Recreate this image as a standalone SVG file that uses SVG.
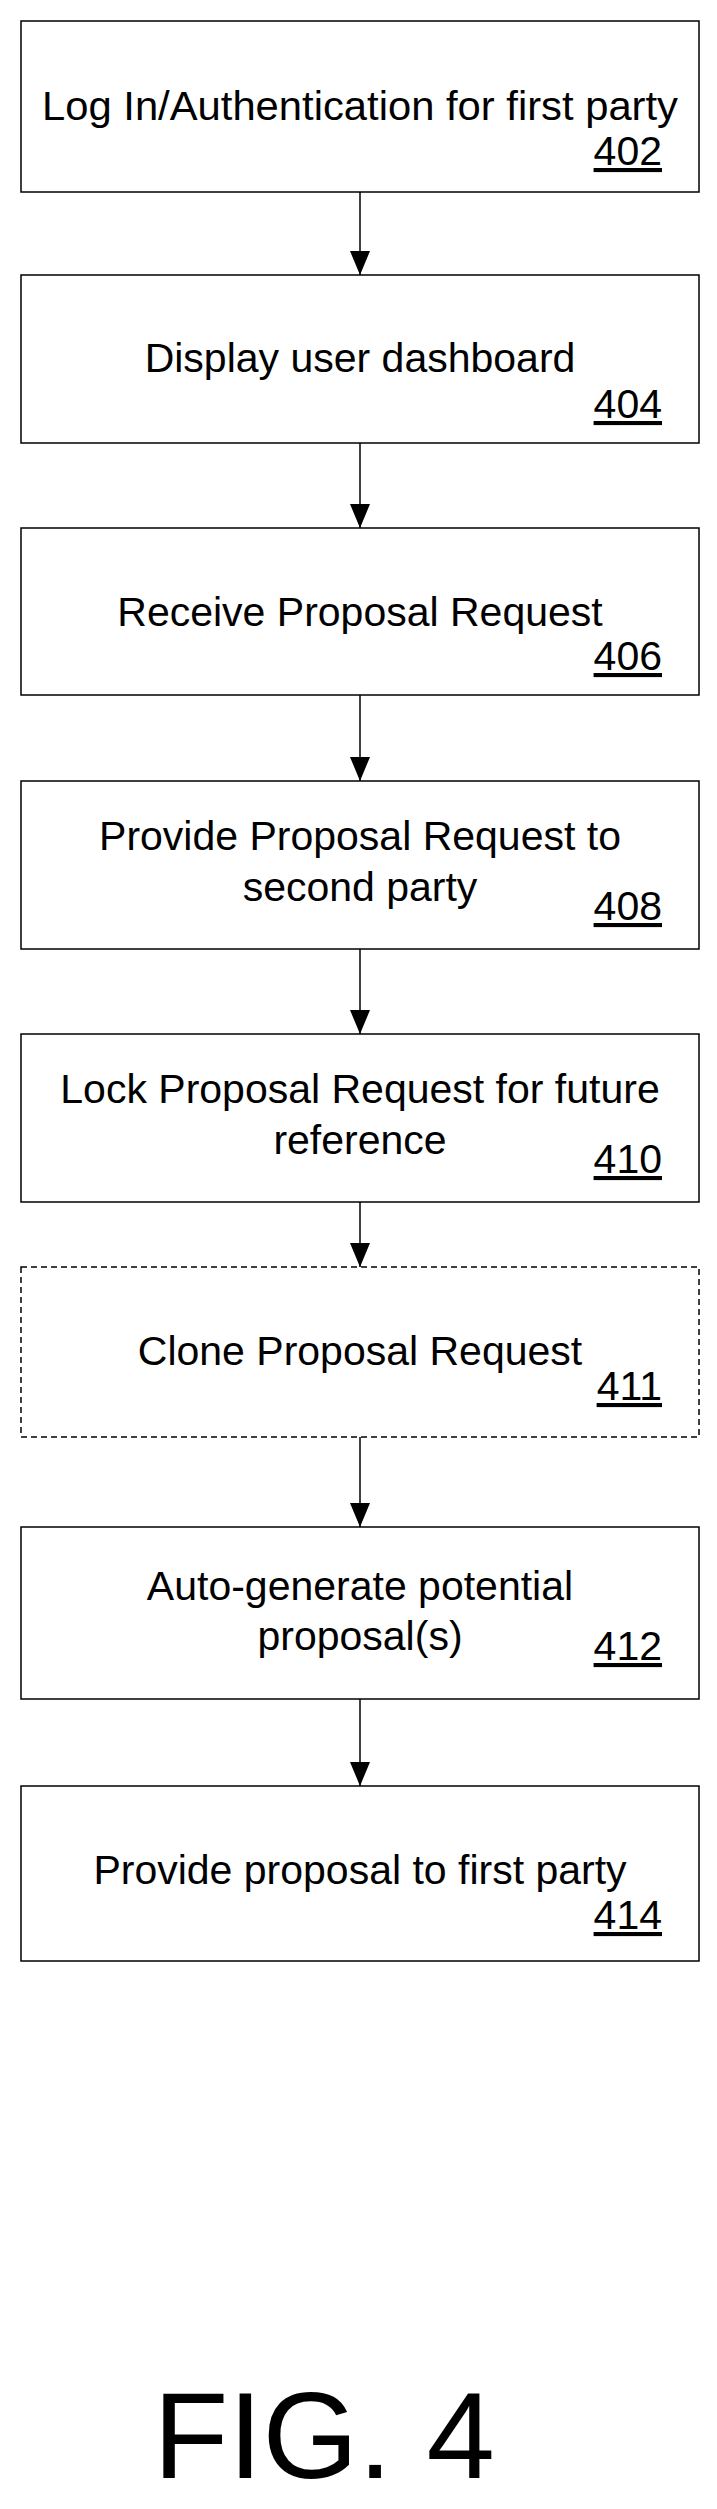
<svg xmlns="http://www.w3.org/2000/svg" width="717" height="2509" viewBox="0 0 717 2509">
<style>
.box{fill:#fff;stroke:#000;stroke-width:1.5}
.dash{stroke-dasharray:6,4}
text{font-family:"Liberation Sans",Arial,sans-serif;font-size:41px;fill:#000}
.t{text-anchor:middle}
.n{text-anchor:end;text-decoration:underline}
.c line{stroke:#000;stroke-width:1.5}
</style>
<defs><marker id="ah" markerWidth="24" markerHeight="20" refX="24" refY="10" orient="auto" markerUnits="userSpaceOnUse"><path d="M0,0 L24,10 L0,20 Z" fill="#000"/></marker></defs>
<g id="n402"><rect class="box" x="21" y="21" width="678" height="171"/><text class="t" x="360" y="120" textLength="636" lengthAdjust="spacingAndGlyphs">Log In/Authentication for first party</text><text class="n" x="662" y="165">402</text></g>
<g id="n404"><rect class="box" x="21" y="275" width="678" height="168"/><text class="t" x="360" y="372">Display user dashboard</text><text class="n" x="662" y="418">404</text></g>
<g id="n406"><rect class="box" x="21" y="528" width="678" height="167"/><text class="t" x="360" y="626">Receive Proposal Request</text><text class="n" x="662" y="670">406</text></g>
<g id="n408"><rect class="box" x="21" y="781" width="678" height="168"/><text class="t" x="360" y="850">Provide Proposal Request to</text><text class="t" x="360" y="901">second party</text><text class="n" x="662" y="920">408</text></g>
<g id="n410"><rect class="box" x="21" y="1034" width="678" height="168"/><text class="t" x="360" y="1103">Lock Proposal Request for future</text><text class="t" x="360" y="1154">reference</text><text class="n" x="662" y="1173">410</text></g>
<g id="n411"><rect class="box dash" x="21" y="1267" width="678" height="170"/><text class="t" x="360" y="1365">Clone Proposal Request</text><text class="n" x="662" y="1400">411</text></g>
<g id="n412"><rect class="box" x="21" y="1527" width="678" height="172"/><text class="t" x="360" y="1600">Auto-generate potential</text><text class="t" x="360" y="1650">proposal(s)</text><text class="n" x="662" y="1660">412</text></g>
<g id="n414"><rect class="box" x="21" y="1786" width="678" height="175"/><text class="t" x="360" y="1884">Provide proposal to first party</text><text class="n" x="662" y="1929">414</text></g>
<g class="c" id="connectors">
<line x1="360" y1="192" x2="360" y2="275" marker-end="url(#ah)"/>
<line x1="360" y1="443" x2="360" y2="528" marker-end="url(#ah)"/>
<line x1="360" y1="695" x2="360" y2="781" marker-end="url(#ah)"/>
<line x1="360" y1="949" x2="360" y2="1034" marker-end="url(#ah)"/>
<line x1="360" y1="1202" x2="360" y2="1267" marker-end="url(#ah)"/>
<line x1="360" y1="1437" x2="360" y2="1527" marker-end="url(#ah)"/>
<line x1="360" y1="1699" x2="360" y2="1786" marker-end="url(#ah)"/>
</g>
<text x="324" y="2478" text-anchor="middle" style="font-size:123px">FIG. 4</text>
</svg>
